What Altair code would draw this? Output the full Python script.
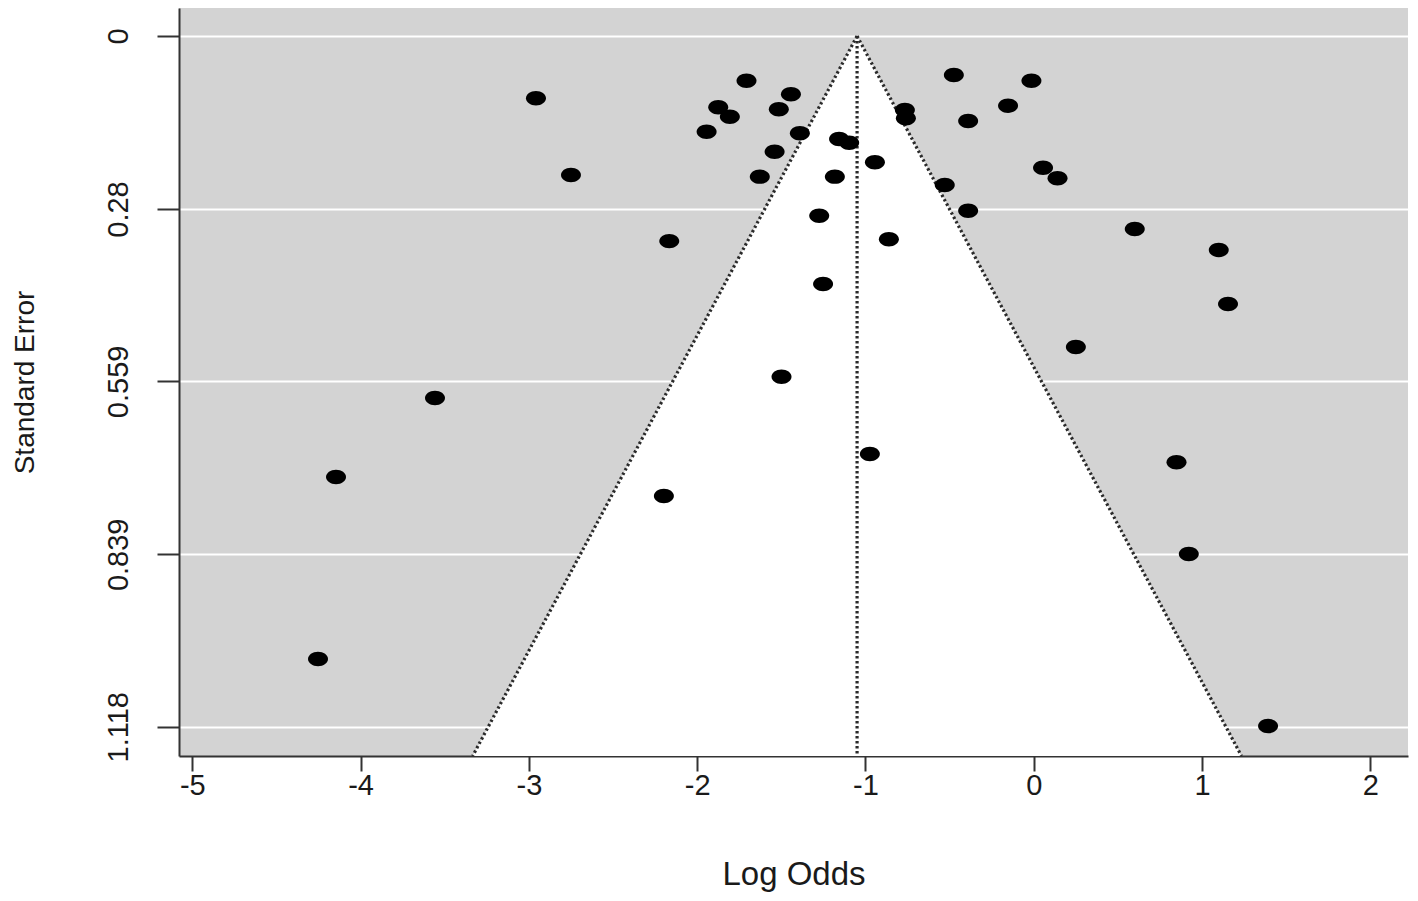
import altair as alt
import pandas as pd

# Study estimates
log_odds = [-2.958, -2.750, -2.166, -1.707, -1.443, -1.875, -1.515, -1.806, -1.944, -1.390,
            -1.157, -1.097, -1.540, -0.944, -1.628, -1.182, -1.275, -0.861, -1.252, -1.499,
            -0.974, -2.198, -3.558, -4.146, -4.253, -0.475, -0.014, -0.153, -0.766, -0.760,
            -0.390, -0.529, -0.390, 0.055, 0.141, 0.600, 1.099, 1.154, 0.250, 0.848,
            0.921, 1.392]
std_err = [0.1008, 0.2250, 0.3320, 0.0724, 0.0944, 0.1154, 0.1186, 0.1306, 0.1549, 0.1575,
           0.1667, 0.1727, 0.1873, 0.2044, 0.2277, 0.2277, 0.2909, 0.3291, 0.4014, 0.5515,
           0.6766, 0.7446, 0.5860, 0.7138, 1.0084, 0.0631, 0.0724, 0.1128, 0.1198, 0.1332,
           0.1376, 0.2412, 0.2828, 0.2132, 0.2303, 0.3124, 0.3464, 0.4338, 0.5034, 0.6900,
           0.8385, 1.1169]

x_ticks = [-5, -4, -3, -2, -1, 0, 1, 2]
y_ticks = [0, 0.28, 0.559, 0.839, 1.118]

pooled = -1.05   # summary log odds (centre of funnel)
z = 1.96

x_domain = [-5.079, 2.2235]
y_domain = [-0.0453, 1.1654]

pts = pd.DataFrame({"lo": log_odds, "se": std_err})

se_edge = [0.0, y_domain[1]]
funnel = pd.DataFrame({
    "se": se_edge,
    "left": [pooled - z * s for s in se_edge],
    "right": [pooled + z * s for s in se_edge],
})
edges = pd.DataFrame({
    "x0": [pooled, pooled, pooled],
    "y0": [0.0, 0.0, 0.0],
    "x1": [pooled - z * y_domain[1], pooled + z * y_domain[1], pooled],
    "y1": [y_domain[1]] * 3,
})

FONT = "Liberation Sans"
xs = alt.Scale(domain=x_domain, nice=False, zero=False)
ys = alt.Scale(domain=y_domain, nice=False, zero=False, reverse=True)

x_axis = alt.Axis(values=x_ticks, title="Log Odds", grid=False,
                  labelExpr="datum.value < 0 ? '-' + abs(datum.value) : '' + datum.value",
                  labelFontSize=29, titleFontSize=33, labelFont=FONT, titleFont=FONT,
                  tickSize=15, labelPadding=0, titleY=128, titleBaseline="alphabetic",
                  labelColor="#1a1a1a", titleColor="#1a1a1a", titleFontWeight="normal")
y_axis = alt.Axis(values=y_ticks, title="Standard Error", format=".3~f",
                  grid=True, gridColor="white", gridWidth=2,
                  labelFontSize=29, titleFontSize=28, labelFont=FONT, titleFont=FONT,
                  labelAngle=-90, labelAlign="center", labelBaseline="bottom",
                  tickSize=22, labelPadding=24,
                  titleAngle=-90, titleX=-154, titleY=374, titleAlign="center",
                  titleBaseline="middle",
                  labelColor="#1a1a1a", titleColor="#1a1a1a", titleFontWeight="normal")

area = alt.Chart(funnel).mark_area(orient="horizontal", color="white", opacity=1).encode(
    y=alt.Y("se:Q", scale=ys, axis=y_axis),
    x=alt.X("left:Q", scale=xs, axis=x_axis),
    x2="right:Q",
)

lines = alt.Chart(edges).mark_rule(color="#2a2a2a", strokeWidth=3.2, strokeDash=[2.4, 2.6]).encode(
    x=alt.X("x0:Q", scale=xs),
    y=alt.Y("y0:Q", scale=ys),
    x2="x1:Q",
    y2="y1:Q",
)

ellipse = "M-1,0A1,0.72,0,1,1,1,0A1,0.72,0,1,1,-1,0Z"
points = alt.Chart(pts).mark_point(filled=True, shape=ellipse, size=400,
                                   color="black", opacity=1).encode(
    x=alt.X("lo:Q", scale=xs),
    y=alt.Y("se:Q", scale=ys),
)

chart = alt.layer(area, lines, points).properties(
    width=1229, height=748,
    autosize=alt.AutoSizeParams(type="none"),
    padding={"left": 171, "top": 0, "right": 2, "bottom": 143},
    background="white",
).configure_view(fill="#d3d3d3", stroke=None).configure_axis(
    domainColor="#333333", domainWidth=2, tickColor="#333333", tickWidth=2,
)

chart.save("out.html", embed_options={"renderer": "svg", "actions": False})
